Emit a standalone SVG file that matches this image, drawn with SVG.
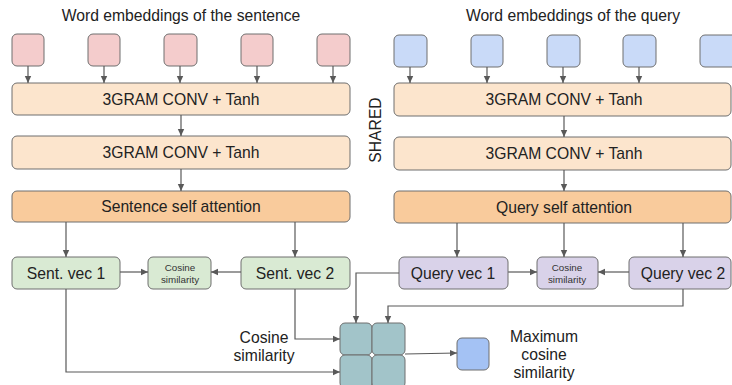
<svg xmlns="http://www.w3.org/2000/svg" width="732" height="385" viewBox="0 0 732 385">
<defs>
<marker id="ah" markerWidth="8" markerHeight="8" refX="7" refY="4" orient="auto" markerUnits="userSpaceOnUse">
<path d="M0,0.8 L7,4 L0,7.2 Z" fill="#595959"/>
</marker>
<style>
.n{stroke:#6f6f6f;stroke-width:1}
.pk{fill:#f4cccc}
.bl{fill:#c9daf8}
.cv{fill:#fce5cd}
.at{fill:#f9cb9c}
.gr{fill:#d9ead3}
.pu{fill:#d9d2e9}
.gd{fill:#a2c4c9}
.out{fill:#a4c2f4}
.t{font-family:"Liberation Sans",Arial,sans-serif;font-size:15.7px;fill:#222;text-anchor:middle}
.s{font-family:"Liberation Sans",Arial,sans-serif;font-size:9.8px;fill:#333;text-anchor:middle}
.c{fill:none;stroke:#595959;stroke-width:1.2}
</style>
</defs>
<rect width="732" height="385" fill="#ffffff"/>

<text class="t" x="181" y="21">Word embeddings of the sentence</text>
<text class="t" x="573" y="21">Word embeddings of the query</text>
<text class="t" transform="translate(381,130) rotate(-90)">SHARED</text>

<g id="s_emb1"><rect class="n pk" x="12" y="34" width="32" height="32" rx="5"/></g>
<g id="s_emb2"><rect class="n pk" x="88" y="34" width="32" height="32" rx="5"/></g>
<g id="s_emb3"><rect class="n pk" x="164" y="34" width="33" height="32" rx="5"/></g>
<g id="s_emb4"><rect class="n pk" x="241" y="34" width="32" height="32" rx="5"/></g>
<g id="s_emb5"><rect class="n pk" x="317" y="34" width="33" height="32" rx="5"/></g>

<g id="q_emb1"><rect class="n bl" x="394" y="35" width="33" height="32" rx="5"/></g>
<g id="q_emb2"><rect class="n bl" x="471" y="35" width="32" height="32" rx="5"/></g>
<g id="q_emb3"><rect class="n bl" x="547" y="35" width="33" height="32" rx="5"/></g>
<g id="q_emb4"><rect class="n bl" x="623" y="35" width="33" height="32" rx="5"/></g>
<g id="q_emb5"><rect class="n bl" x="700" y="35" width="40" height="32" rx="5"/></g>

<g id="s_conv1"><rect class="n cv" x="12" y="83" width="338" height="32" rx="5"/><text class="t" x="181" y="105">3GRAM CONV + Tanh</text></g>
<g id="s_conv2"><rect class="n cv" x="12" y="136" width="338" height="33" rx="5"/><text class="t" x="181" y="158">3GRAM CONV + Tanh</text></g>
<g id="s_att"><rect class="n at" x="12" y="191" width="338" height="31" rx="5"/><text class="t" x="181" y="212">Sentence self attention</text></g>

<g id="q_conv1"><rect class="n cv" x="394" y="83" width="337" height="33" rx="5"/><text class="t" x="564" y="105">3GRAM CONV + Tanh</text></g>
<g id="q_conv2"><rect class="n cv" x="394" y="137" width="337" height="33" rx="5"/><text class="t" x="564" y="159">3GRAM CONV + Tanh</text></g>
<g id="q_att"><rect class="n at" x="394" y="191" width="337" height="32" rx="5"/><text class="t" x="564" y="213">Query self attention</text></g>

<g id="s_vec1"><rect class="n gr" x="12" y="257" width="108" height="32" rx="5"/><text class="t" x="66" y="279">Sent. vec 1</text></g>
<g id="s_cos"><rect class="n gr" x="148" y="257" width="63" height="32" rx="5"/><text class="s" x="180" y="271">Cosine</text><text class="s" x="180" y="283">similarity</text></g>
<g id="s_vec2"><rect class="n gr" x="241" y="257" width="109" height="32" rx="5"/><text class="t" x="295" y="279">Sent. vec 2</text></g>

<g id="q_vec1"><rect class="n pu" x="399" y="257" width="109" height="32" rx="5"/><text class="t" x="453" y="279">Query vec 1</text></g>
<g id="q_cos"><rect class="n pu" x="537" y="257" width="61" height="32" rx="5"/><text class="s" x="567" y="271">Cosine</text><text class="s" x="567" y="283">similarity</text></g>
<g id="q_vec2"><rect class="n pu" x="629" y="257" width="102" height="32" rx="5"/><text class="t" x="683" y="279">Query vec 2</text></g>

<g id="grid">
<rect class="n gd" x="340" y="323" width="32" height="32" rx="5"/>
<rect class="n gd" x="372" y="323" width="33" height="32" rx="5"/>
<rect class="n gd" x="340" y="355" width="32" height="33" rx="5"/>
<rect class="n gd" x="372" y="355" width="33" height="33" rx="5"/>
</g>
<g id="max_out"><rect class="n out" x="457" y="338" width="32" height="32" rx="5"/></g>

<text class="t" x="264" y="343">Cosine</text>
<text class="t" x="264" y="361">similarity</text>
<text class="t" x="544" y="342">Maximum</text>
<text class="t" x="544" y="360">cosine</text>
<text class="t" x="544" y="378">similarity</text>

<g id="connectors">
<line class="c" x1="28" y1="66" x2="28" y2="83" marker-end="url(#ah)"/>
<line class="c" x1="104" y1="66" x2="104" y2="83" marker-end="url(#ah)"/>
<line class="c" x1="180" y1="66" x2="180" y2="83" marker-end="url(#ah)"/>
<line class="c" x1="257" y1="66" x2="257" y2="83" marker-end="url(#ah)"/>
<line class="c" x1="333" y1="66" x2="333" y2="83" marker-end="url(#ah)"/>
<line class="c" x1="410" y1="67" x2="410" y2="83" marker-end="url(#ah)"/>
<line class="c" x1="487" y1="67" x2="487" y2="83" marker-end="url(#ah)"/>
<line class="c" x1="563" y1="67" x2="563" y2="83" marker-end="url(#ah)"/>
<line class="c" x1="639" y1="67" x2="639" y2="83" marker-end="url(#ah)"/>
<line class="c" x1="181" y1="115" x2="181" y2="136" marker-end="url(#ah)"/>
<line class="c" x1="181" y1="169" x2="181" y2="191" marker-end="url(#ah)"/>
<line class="c" x1="564" y1="116" x2="564" y2="137" marker-end="url(#ah)"/>
<line class="c" x1="564" y1="170" x2="564" y2="191" marker-end="url(#ah)"/>
<line class="c" x1="66" y1="222" x2="66" y2="257" marker-end="url(#ah)"/>
<line class="c" x1="295" y1="222" x2="295" y2="257" marker-end="url(#ah)"/>
<line class="c" x1="120" y1="272" x2="148" y2="272" marker-end="url(#ah)"/>
<line class="c" x1="241" y1="272" x2="211" y2="272" marker-end="url(#ah)"/>
<line class="c" x1="457" y1="223" x2="457" y2="257" marker-end="url(#ah)"/>
<line class="c" x1="564" y1="223" x2="564" y2="257" marker-end="url(#ah)"/>
<line class="c" x1="683" y1="223" x2="683" y2="257" marker-end="url(#ah)"/>
<line class="c" x1="508" y1="272" x2="537" y2="272" marker-end="url(#ah)"/>
<line class="c" x1="629" y1="272" x2="598" y2="272" marker-end="url(#ah)"/>
<polyline class="c" points="66,289 66,372 340,372" marker-end="url(#ah)"/>
<polyline class="c" points="295,289 295,339 340,339" marker-end="url(#ah)"/>
<polyline class="c" points="399,273 356,273 356,323" marker-end="url(#ah)"/>
<polyline class="c" points="683,289 683,306 388,306 388,323" marker-end="url(#ah)"/>
<line class="c" x1="405" y1="354" x2="457" y2="353" marker-end="url(#ah)"/>
</g>
</svg>
